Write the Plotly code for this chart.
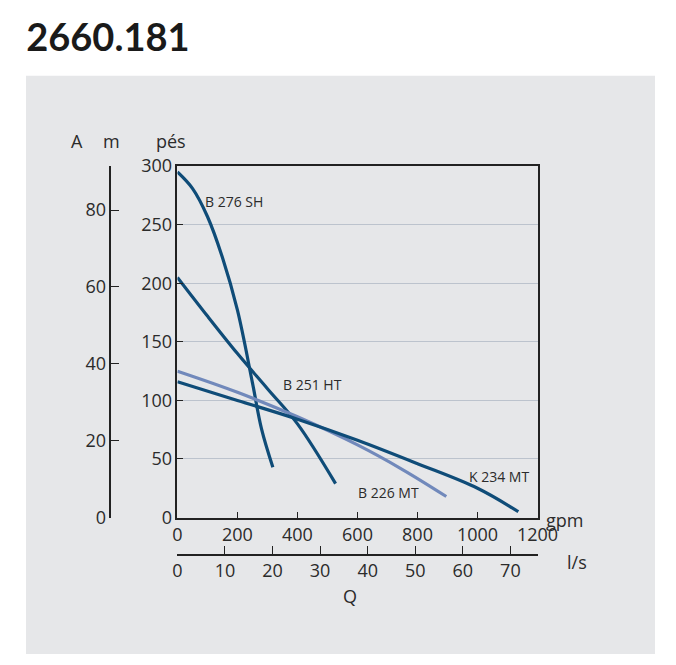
import plotly.graph_objects as go

# -- Datos (gpm, pes) ---------------------------------------------------------
SH_Q = [0, 50, 100, 150, 200, 250, 280, 318]
SH_H = [295, 281, 257, 222, 177, 115, 76, 43]
HT_Q = [0, 100, 200, 300, 400, 527]
HT_H = [205, 172, 140, 110, 80, 29]
MT226_Q = [0, 200, 400, 600, 750, 896]
MT226_H = [125, 107, 86, 62, 41, 18]
K234_Q = [0, 200, 400, 600, 800, 1000, 1136]
K234_H = [116, 100, 84, 66, 46, 25, 5]

CURVES = [
    ("B 276 SH", SH_Q, SH_H, "#0f4c78", 84, 270),
    ("B 251 HT", HT_Q, HT_H, "#0f4c78", 345, 114),
    ("B 226 MT", MT226_Q, MT226_H, "#7189bb", 595, 21),
    ("K 234 MT", K234_Q, K234_H, "#0f4c78", 964, 35),
]

FT_TICKS = [0, 50, 100, 150, 200, 250, 300]
M_TICKS = [0, 20, 40, 60, 80]
GPM_TICKS = [0, 200, 400, 600, 800, 1000, 1200]
LS_TICKS = [0, 10, 20, 30, 40, 50, 60, 70]

FONT = "Open Sans, Liberation Sans, sans-serif"
TXT = "#2b2b2b"

# pixel -> paper (area gris 18..666 x 68..660)
TOP, BOT = 60, 657

def px(x):
    return (x - 18) / 648

def py(y):
    return (BOT - y) / (BOT - TOP)

fig = go.Figure()
for name, q, h, col, lx, ly in CURVES:
    fig.add_trace(go.Scatter(x=q, y=h, mode="lines", line=dict(color=col, width=3.2, shape="spline"),
                             showlegend=False, hoverinfo="skip"))
    fig.add_annotation(x=lx, y=ly, text=name, showarrow=False, xanchor="left",
                       font=dict(size=14, color=TXT, family=FONT))

# trazas invisibles para los ejes secundarios
fig.add_trace(go.Scatter(x=[0], y=[0], xaxis="x2", yaxis="y", mode="markers",
                         marker=dict(opacity=0), showlegend=False, hoverinfo="skip"))
fig.add_trace(go.Scatter(x=[0], y=[0], xaxis="x", yaxis="y2", mode="markers",
                         marker=dict(opacity=0), showlegend=False, hoverinfo="skip"))

fig.add_shape(type="rect", xref="paper", yref="paper", x0=0, x1=1, y0=0, y1=py(68),
              fillcolor="#e6e7e9", line_width=0, layer="below")

fig.update_layout(
    width=676, height=665,
    margin=dict(l=18, r=10, t=TOP, b=665 - BOT),
    paper_bgcolor="white", plot_bgcolor="white",
    font=dict(family=FONT, color=TXT),
    title=dict(text="<b>2660.181</b>", x=0.027, xanchor="left", y=0.955, yanchor="middle",
               font=dict(size=38, color="#1a1a1a", family="Lato, Open Sans, sans-serif")),
    xaxis=dict(domain=[px(174), px(545)], range=[0, 1200], tickvals=GPM_TICKS,
               ticks="inside", ticklen=6, tickcolor="#222", showgrid=False,
               showline=True, linecolor="#222", linewidth=1.5, mirror=True,
               zeroline=False, tickfont=dict(size=18, color=TXT)),
    xaxis2=dict(anchor="free", overlaying="x", position=py(556), side="bottom",
                domain=[px(174), px(545)], range=[0, 1200 / 15.85], tickvals=LS_TICKS,
                ticks="inside", ticklen=8, tickcolor="#222", showgrid=False,
                showline=True, linecolor="#222", linewidth=1.5, zeroline=False,
                tickfont=dict(size=18, color=TXT)),
    yaxis=dict(domain=[py(518), py(160)], range=[0, 300], tickvals=FT_TICKS,
               ticks="inside", ticklen=6, tickcolor="#222", showgrid=True,
               gridcolor="#bcc3cd", gridwidth=1, showline=True, linecolor="#222",
               linewidth=1.5, mirror=True, zeroline=False,
               tickfont=dict(size=18, color=TXT)),
    yaxis2=dict(anchor="free", overlaying="y", position=px(105), side="left",
                range=[0, 300 * 0.3048], tickvals=M_TICKS, ticks="inside",
                ticklen=8, tickcolor="#222", showgrid=False, showline=True,
                linecolor="#222", linewidth=1.5, zeroline=False,
                tickfont=dict(size=18, color=TXT)),
)

for t, x, y in [("A", 62, 120), ("m", 95, 120), ("pés", 150, 120),
                ("gpm", 594, 535), ("l/s", 598, 578), ("Q", 352, 612)]:
    fig.add_annotation(xref="paper", yref="paper", x=px(x), y=py(y), text=t,
                       showarrow=False, font=dict(size=18, color=TXT, family=FONT))

fig.write_html("out.html")
